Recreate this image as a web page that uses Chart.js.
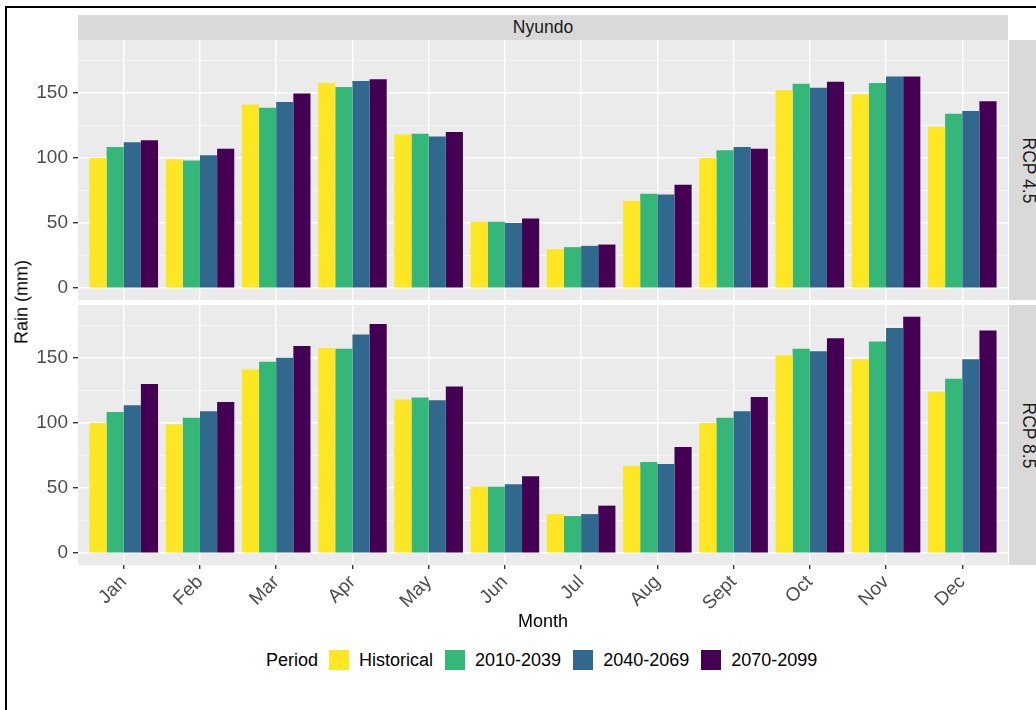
<!DOCTYPE html>
<html>
<head>
<meta charset="utf-8">
<script src="https://cdn.jsdelivr.net/npm/chart.js@4.4.1/dist/chart.umd.min.js"></script>
<style>
  html, body { margin: 0; padding: 0; background: #fff; }
  body { width: 1036px; height: 710px; position: relative; overflow: hidden; font-family: "Liberation Sans", Arial, sans-serif; }
  .frame { position: absolute; left: 5px; top: 6px; width: 1100px; height: 800px; border: 2px solid #000; }
  .strip { position: absolute; background: #d9d9d9; color: #1a1a1a; font-size: 17.5px; display: flex; align-items: center; justify-content: center; }
  .strip.side span { transform: rotate(90deg); white-space: nowrap; }
  canvas { position: absolute; }
  .title { position: absolute; color: #000; font-size: 18px; white-space: nowrap; }
  .legend { position: absolute; left: 266px; top: 650px; height: 20px; display: flex; align-items: center; font-size: 18px; color: #000; }
  .legend .key { width: 20px; height: 20px; margin: 0 10px 0 12px; }
  .legend .key.first { margin-left: 11px; }
</style>
</head>
<body>
<div class="frame"></div>

<div class="strip" style="left:78px; top:15px; width:930px; height:25px;">Nyundo</div>
<div class="strip side" style="left:1009px; top:40px; width:40px; height:260px;"><span>RCP 4.5</span></div>
<div class="strip side" style="left:1009px; top:305px; width:40px; height:260px;"><span>RCP 8.5</span></div>

<canvas id="rcp45" width="1008" height="260" style="left:0; top:40px;"></canvas>
<canvas id="rcp85" width="1008" height="335" style="left:0; top:305px;"></canvas>

<div class="title" style="left:22px; top:302px; transform: translate(-50%, -50%) rotate(-90deg);">Rain (mm)</div>
<div class="title" style="left:543px; top:621px; transform: translate(-50%, -50%);">Month</div>

<div class="legend" id="legend"><span>Period</span></div>

<script>
const months = ['Jan', 'Feb', 'Mar', 'Apr', 'May', 'Jun', 'Jul', 'Aug', 'Sept', 'Oct', 'Nov', 'Dec'];
const periods = ['Historical', '2010-2039', '2040-2069', '2070-2099'];
const periodColors = ['#FDE725', '#35B779', '#31688E', '#440154'];

// monthly rain (mm)
const historical = [100, 99, 141, 157.5, 118, 51, 30, 67, 100, 152, 149, 124];
const rcp45_2010 = [108.5, 98, 138.5, 154.5, 118.5, 51, 31.5, 72.5, 106, 157, 157.5, 134];
const rcp45_2040 = [112, 102, 143, 159, 116.5, 50, 32.5, 72, 108.5, 154, 162.5, 136];
const rcp45_2070 = [113.5, 107, 149.5, 160.5, 120, 53.5, 33.5, 79.5, 107, 158.5, 162.5, 143.5];
const rcp85_2010 = [108.5, 104, 147, 157, 119.5, 51, 28.5, 70, 104, 157, 162.5, 134];
const rcp85_2040 = [113.5, 109, 150, 168, 117.5, 53, 30, 68.5, 109, 155, 173, 149];
const rcp85_2070 = [130, 116, 159, 176, 128, 59, 36.5, 81.5, 120, 165, 181.5, 171];

const yTicks = [0, 50, 100, 150];
const yMinorTicks = [25, 75, 125, 175];

// shared y range, ggplot-style 5% expansion
const allValues = [historical, rcp45_2010, rcp45_2040, rcp45_2070, rcp85_2010, rcp85_2040, rcp85_2070].flat();
const yTop = Math.max(...allValues);
const yPad = yTop * 0.05;

const tickFont = { family: "'Liberation Sans', Arial, sans-serif", size: 19 };

// grey panel behind the bars
const panelBg = {
    id: 'panelBg',
    beforeDraw(chart) {
        const { ctx, chartArea: a } = chart;
        ctx.save();
        ctx.fillStyle = '#EBEBEB';
        ctx.fillRect(a.left, a.top, a.right - a.left, a.bottom - a.top);
        ctx.restore();
    }
};

function makePanel(canvasId, series, showX) {
    const datasets = series.map((vals, i) => ({
        label: periods[i],
        data: vals.map((v, j) => ({ x: j, y: v })),
        backgroundColor: periodColors[i],
        borderWidth: 0,
        categoryPercentage: 0.9,
        barPercentage: 1.0
    }));

    return new Chart(document.getElementById(canvasId), {
        type: 'bar',
        data: { datasets: datasets },
        plugins: [panelBg],
        options: {
            responsive: false,
            animation: false,
            layout: { padding: 0 },
            plugins: {
                legend: { display: false },
                tooltip: { enabled: false }
            },
            scales: {
                x: {
                    type: 'linear',
                    min: -0.6,
                    max: 11.6,
                    offset: false,
                    afterBuildTicks: (s) => { s.ticks = months.map((m, i) => ({ value: i })); },
                    ticks: {
                        display: showX,
                        autoSkip: false,
                        minRotation: 45,
                        maxRotation: 45,
                        padding: 2,
                        font: tickFont,
                        color: '#4d4d4d',
                        callback: (v) => months[v]
                    },
                    grid: { offset: false, color: '#ffffff', lineWidth: 1.4, drawTicks: showX, tickLength: 4, tickColor: '#333333' },
                    border: { display: false },
                    afterFit: (s) => {
                        s.height = showX ? 75 : 0;
                        s.paddingLeft = 0;
                        s.paddingRight = 0;
                    }
                },
                y: {
                    min: -yPad,
                    max: yTop + yPad,
                    afterBuildTicks: (s) => {
                        s.ticks = [...yTicks, ...yMinorTicks].sort((a, b) => a - b).map(v => ({ value: v }));
                    },
                    ticks: {
                        padding: 5,
                        font: tickFont,
                        color: '#4d4d4d',
                        callback: (v) => yTicks.includes(v) ? v : ''
                    },
                    grid: {
                        color: (c) => yTicks.includes(c.tick.value) ? '#ffffff' : 'rgba(255,255,255,0.7)',
                        lineWidth: (c) => yTicks.includes(c.tick.value) ? 1.4 : 0.7,
                        tickLength: 5,
                        tickColor: (c) => yTicks.includes(c.tick.value) ? '#333333' : 'rgba(0,0,0,0)'
                    },
                    border: { display: false },
                    afterFit: (s) => {
                        s.width = 78;
                        s.paddingTop = 0;
                        s.paddingBottom = 0;
                    }
                }
            }
        }
    });
}

makePanel('rcp45', [historical, rcp45_2010, rcp45_2040, rcp45_2070], false);
makePanel('rcp85', [historical, rcp85_2010, rcp85_2040, rcp85_2070], true);

// legend row
const legend = document.getElementById('legend');
periods.forEach((p, i) => {
    const key = document.createElement('span');
    key.className = i === 0 ? 'key first' : 'key';
    key.style.background = periodColors[i];
    legend.appendChild(key);
    const label = document.createElement('span');
    label.textContent = p;
    legend.appendChild(label);
});
</script>
</body>
</html>
